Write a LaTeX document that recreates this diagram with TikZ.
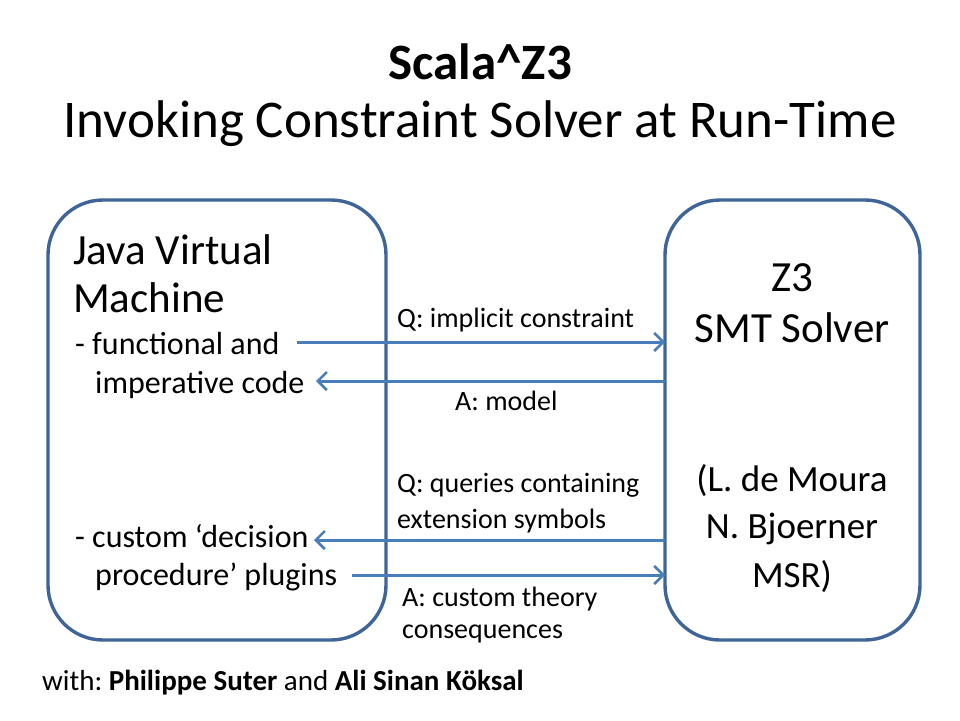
\documentclass[tikz,border=0pt]{standalone}
\usepackage{fontspec}
\setmainfont{Carlito}
\frenchspacing
\usetikzlibrary{arrows.meta}
\definecolor{boxblue}{HTML}{3F6497}
\definecolor{arrblue}{HTML}{4A7EBB}
\tikzset{
  panel/.style={draw=boxblue, line width=3.4pt, rounded corners=55pt, inner sep=0pt},
  link/.style={draw=arrblue, line width=3pt, -{Straight Barb[length=9pt,width=18pt,line width=2.6pt]}},
  lbl/.style={anchor=west, inner sep=0pt, font=\fontsize{28}{33}\selectfont},
  big/.style={inner sep=0pt, font=\fontsize{43}{50}\selectfont},
  mid/.style={inner sep=0pt, font=\fontsize{32}{38}\selectfont, anchor=west},
  rsm/.style={inner sep=0pt, font=\fontsize{37}{44}\selectfont},
}
\begin{document}
\begin{tikzpicture}[x=1pt,y=-1pt]
\useasboundingbox (0,0) rectangle (960,720);
% title
\node[inner sep=0pt, font=\bfseries\fontsize{51}{60}\selectfont] (t1) at (480,62) {Scala\^{}Z3};
\node[inner sep=0pt, font=\fontsize{53}{62}\selectfont] (t2) at (480,124) {Invoking Constraint Solver at Run-Time};
% boxes
\node[panel, minimum width=338pt, minimum height=440pt] (jvm) at (217,420) {};
\node[panel, minimum width=255pt, minimum height=440pt] (z3) at (792.5,420) {};
% left text
\node[big, anchor=west] (j1) at (73,250) {Java Virtual};
\node[big, anchor=west] (j2) at (73,298) {Machine};
\node[mid] (f1) at (75,344) {- functional and};
\node[mid] (f2) at (95,385) {imperative code};
\node[mid] (c1) at (75,536) {- custom ‘decision};
\node[mid] (c2) at (95,577) {procedure’ plugins};
% right text
\node[big] (r1) at (792,278) {Z3};
\node[big] (r2) at (792,328) {SMT Solver};
\node[rsm] (r3) at (792,481) {(L. de Moura};
\node[rsm] (r4) at (792,529) {N. Bjoerner};
\node[rsm] (r5) at (792,577) {MSR)};
% arrow endpoints
\coordinate (a1s) at (297,342); \coordinate (a1e) at (665,342);
\coordinate (a2s) at (665,381); \coordinate (a2e) at (316,381);
\coordinate (a3s) at (665,540); \coordinate (a3e) at (314,540);
\coordinate (a4s) at (352,575); \coordinate (a4e) at (665,575);
\draw[link] (a1s) -- (a1e);
\draw[link] (a2s) -- (a2e);
\draw[link] (a3s) -- (a3e);
\draw[link] (a4s) -- (a4e);
% labels
\node[lbl] (l1) at (397,320) {Q: implicit constraint};
\node[lbl] (l2) at (455,401) {A: model};
\node[lbl] (l3) at (397,485) {Q: queries containing};
\node[lbl] (l4) at (397,521) {extension symbols};
\node[lbl] (l5) at (402,599) {A: custom theory};
\node[lbl] (l6) at (402,634) {consequences};
% footer
\node[anchor=west, inner sep=0pt, font=\fontsize{29}{34}\selectfont] (ft) at (42,683) {with: \textbf{Philippe Suter} and \textbf{Ali Sinan Köksal}};
\end{tikzpicture}
\end{document}
